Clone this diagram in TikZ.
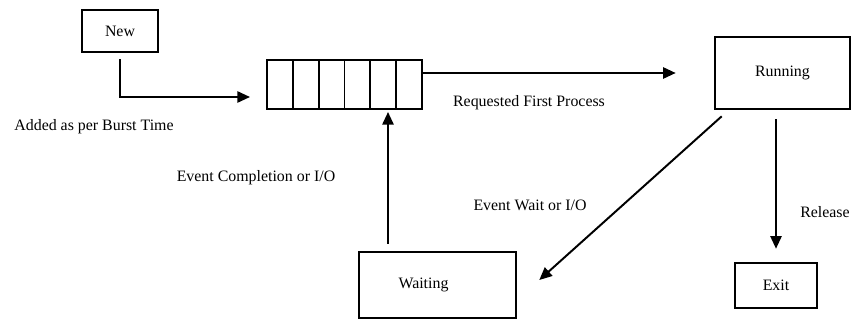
\documentclass[tikz,border=0pt]{standalone}
\usepackage{fontspec}
\setmainfont{Liberation Serif}
\usepackage{tikz}
\usetikzlibrary{shapes,arrows.meta,positioning}

\begin{document}
\begin{tikzpicture}[x=0.025cm, y=-0.025cm, >={Triangle[length=9pt,width=8pt]}, thick, font=\fontsize{11.3pt}{13pt}\selectfont]
    % Styles
    \tikzstyle{state} = [rectangle, draw, line width=1.8pt, fill=white, inner sep=0pt]
    \tikzstyle{cell} = [rectangle, draw, line width=1.2pt, minimum width=0.646cm, minimum height=1.225cm, inner sep=0pt]
    \tikzstyle{line} = [draw, ->, line width=1.4pt]
    \tikzstyle{lbl} = [inner sep=0pt]

    \useasboundingbox (0,0) rectangle (852,320);

    % Nodes
    \node [state, line width=1.5pt, minimum width=1.9cm, minimum height=1.05cm] (new) at (120,31) {New};
    \foreach \i in {1,...,6}
        \node [cell] (q\i) at ({267+25.83*(\i-0.5)},84.5) {};
    \node [state, minimum width=3.375cm, minimum height=1.8cm] (running) at (782.5,73) {Running};
    \node [state, minimum width=2.05cm, minimum height=1.125cm] (exit) at (776,285.5) {Exit};
    \node [state, minimum width=3.925cm, minimum height=1.65cm] (waiting) at (437.5,285) {Waiting\hspace{0.7cm}\null};
    \coordinate (qin) at (250,97);
    \coordinate (qback) at (388,109);

    % Labels
    \node [lbl] (burst) at (94,127) {Added as per Burst Time};
    \node [lbl] (request) at (529,103) {Requested First Process};
    \node [lbl] (complete) at (256,178) {Event Completion or I/O};
    \node [lbl] (eventwait) at (530,205) {Event Wait or I/O};
    \node [lbl] (release) at (825,212) {Release};

    % Main Flow
    \path [line, shorten <=0.15cm] (new) |- (qin);
    \path [line, shorten >=0.95cm] (q6.east |- running) -- (running.west);
    \path [line, shorten <=0.225cm, shorten >=0.325cm] (running.south -| exit) -- (exit.north);

    % Wait and return
    \path [line] ([shift={(8,6)}]running.south west) -- ([shift={(22,-5)}]waiting.east);
    \path [line, shorten <=0.175cm, shorten >=0.075cm] (waiting.north -| qback) -- (qback);

\end{tikzpicture}
\end{document}
